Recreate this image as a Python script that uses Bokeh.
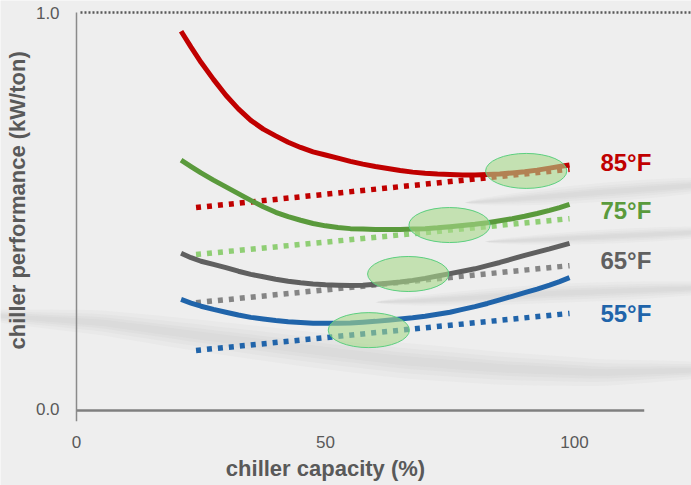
import numpy as np
from bokeh.plotting import figure
from bokeh.models import Range1d
from bokeh.core.properties import value
from bokeh.embed import file_html
from bokeh.resources import INLINE

# chiller capacity (%) sample points for the part-load curves
capacity = [21, 23, 25, 27.5, 30, 32.5, 35, 37.5, 40, 42.5, 45, 47.5, 50, 52.5,
            55, 57.5, 60, 62.5, 65, 67.5, 70, 72.5, 75, 77.5, 80, 82.5, 85,
            87.5, 90, 92.5, 95, 97, 99]

# part-load performance (kW/ton) by condenser water temperature
perf_85 = [0.953, 0.913, 0.875, 0.832, 0.792, 0.758, 0.729, 0.707, 0.690, 0.674,
           0.661, 0.650, 0.642, 0.634, 0.626, 0.619, 0.613, 0.608, 0.603, 0.599,
           0.596, 0.594, 0.593, 0.592, 0.592, 0.593, 0.594, 0.597, 0.600, 0.604,
           0.609, 0.613, 0.617]
perf_75 = [0.629, 0.613, 0.597, 0.579, 0.562, 0.545, 0.528, 0.512, 0.498, 0.487,
           0.478, 0.470, 0.464, 0.460, 0.457, 0.456, 0.455, 0.455, 0.455, 0.456,
           0.457, 0.459, 0.462, 0.465, 0.468, 0.472, 0.477, 0.482, 0.488, 0.495,
           0.503, 0.510, 0.518]
perf_65 = [0.395, 0.384, 0.375, 0.367, 0.359, 0.350, 0.342, 0.336, 0.330, 0.325,
           0.321, 0.318, 0.316, 0.315, 0.314, 0.315, 0.317, 0.320, 0.323, 0.327,
           0.332, 0.338, 0.344, 0.350, 0.356, 0.364, 0.372, 0.381, 0.390, 0.398,
           0.406, 0.413, 0.420]
perf_55 = [0.279, 0.270, 0.262, 0.254, 0.247, 0.240, 0.234, 0.230, 0.226, 0.223,
           0.221, 0.219, 0.219, 0.219, 0.220, 0.222, 0.224, 0.227, 0.230, 0.233,
           0.237, 0.242, 0.247, 0.254, 0.261, 0.269, 0.278, 0.287, 0.296, 0.305,
           0.315, 0.324, 0.334]

# straight reference lines (start, end)
ref_x = [24, 99]
ref_85 = [0.510, 0.606]
ref_75 = [0.392, 0.482]
ref_65 = [0.271, 0.364]
ref_55 = [0.151, 0.244]

# operating-zone highlights
zone_x = [90.3, 74.9, 66.6, 58.7]
zone_y = [0.602, 0.466, 0.343, 0.202]

temp_labels = ["85°F", "75°F", "65°F", "55°F"]
label_y = [0.622, 0.502, 0.376, 0.245]

x_ticks = [0, 50, 100]
x_tick_labels = ["0", "50", "100"]
y_ticks = [0, 1]
y_tick_labels = ["0.0", "1.0"]

RED = "#c00000"
GREEN = "#5a9a3c"
LIGHT_GREEN = "#8fce74"
GRAY = "#606060"
GRAY_DOT = "#858585"
BLUE = "#2064aa"
TEXT = "#595959"
BG = "#eeeeee"
FONT = value("Liberation Sans")

# the plotting frame spans the whole canvas; axes and labels are drawn in data space
p = figure(width=691, height=485, output_backend="svg", toolbar_location=None,
           x_range=Range1d(-15.26, 123.49), y_range=Range1d(-0.1884, 1.0302),
           min_border=0)
p.background_fill_color = BG
p.border_fill_color = BG
p.outline_line_color = None
p.grid.visible = False
p.axis.visible = False

# soft background swooshes (tapered bands)
swooshes = [
    ([-25, 4.8, 24.9, 45.0, 65.1, 85.1, 105.2, 123.5, 140],
     [0.245, 0.221, 0.188, 0.156, 0.126, 0.106, 0.095, 0.101, 0.106], 0.045),
    ([60, 69.1, 95.2, 123.5, 140], [0.272, 0.276, 0.294, 0.307, 0.312], 0.024),
    ([82, 89.2, 123.5, 140], [0.424, 0.427, 0.447, 0.452], 0.018),
    ([78, 85.1, 105.2, 123.5, 140], [0.522, 0.528, 0.548, 0.565, 0.570], 0.024),
]
for sx, sy, hw in swooshes:
    xs = np.linspace(sx[0], sx[-1], 60)
    ys = np.interp(xs, sx, sy)
    taper = np.sin(np.linspace(0, np.pi, 60)) ** 0.6
    for k in [1.0, 0.7, 0.45, 0.25]:
        h = hw * k * taper
        p.varea(x=xs, y1=ys - h, y2=ys + h, fill_color="#7a7a7a", fill_alpha=0.035)

# axis lines and the dotted top reference
p.segment(x0=[0], y0=[0], x1=[114], y1=[0], line_color="#7f7f7f", line_width=2.5)
p.segment(x0=[0], y0=[-0.027], x1=[0], y1=[1.0], line_color="#8a8a8a", line_width=1.5)
p.line(x=[0.8, 123.5], y=[1.0, 1.0], line_color=TEXT, line_width=2.5, line_dash="2 2")

# dotted reference lines
for ys, c in [(ref_85, RED), (ref_75, LIGHT_GREEN), (ref_65, GRAY_DOT), (ref_55, BLUE)]:
    p.line(x=ref_x, y=ys, line_color=c, line_width=5.5, line_dash="5 6")

# part-load curves
for ys, c in [(perf_85, RED), (perf_75, GREEN), (perf_65, GRAY), (perf_55, BLUE)]:
    p.line(x=capacity, y=ys, line_color=c, line_width=5, line_join="round",
           line_cap="butt")

# highlighted zones
p.ellipse(x=zone_x, y=zone_y, width=16.3, height=0.088,
          fill_color="#a8d98a", fill_alpha=0.6, line_color="#5ccf7f", line_width=1)

# temperature labels
p.text(x=[105.2] * 4, y=label_y, text=temp_labels,
       text_color=[RED, GREEN, GRAY, BLUE], text_font=FONT,
       text_font_size="24px", text_font_style="bold",
       text_baseline="middle", text_align="left")

# tick labels
p.text(x=x_ticks, y=[-0.08] * 3, text=x_tick_labels, text_color=TEXT,
       text_font=FONT, text_font_size="17px", text_align="center",
       text_baseline="middle")
p.text(x=[-3.4] * 2, y=[0.005, 1.0], text=y_tick_labels, text_color=TEXT,
       text_font=FONT, text_font_size="17px", text_align="right",
       text_baseline="middle")

# axis titles
p.text(x=[50], y=[-0.146], text=["chiller capacity (%)"], text_color=TEXT,
       text_font=FONT, text_font_size="22px", text_font_style="bold",
       text_align="center", text_baseline="middle")
p.text(x=[-11.75], y=[0.528], text=["chiller performance (kW/ton)"],
       text_color=TEXT, text_font=FONT, text_font_size="22px",
       text_font_style="bold", angle=np.pi / 2,
       text_align="center", text_baseline="middle")

open("out.html", "w").write(file_html(p, INLINE))
